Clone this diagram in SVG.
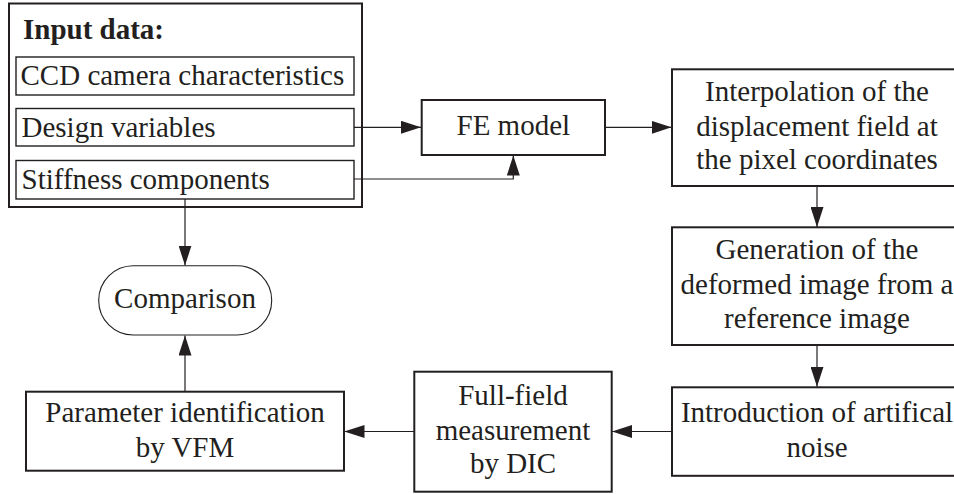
<svg xmlns="http://www.w3.org/2000/svg" width="954" height="494" viewBox="0 0 954 494">
<style>
text{font-size:29px;fill:#231f20}
.c{text-anchor:middle}
.b{font-weight:bold}
.box{fill:#fff;stroke:#231f20;stroke-width:2}
.inner{fill:#fff;stroke:#231f20;stroke-width:1.4}
.conn{fill:none;stroke:#231f20;stroke-width:1.2}
</style>
<defs>
<marker id="ah" viewBox="0 0 20 13" refX="20" refY="6.5" markerWidth="20" markerHeight="13" markerUnits="userSpaceOnUse" orient="auto">
<path d="M0,0 L20,6.5 L0,13 Z" fill="#231f20"/>
</marker>
</defs>
<rect width="954" height="494" fill="#fff"/>
<g font-family="Liberation Serif, Times New Roman, Times, serif">
<g id="input">
<rect class="box" x="9" y="3.5" width="353" height="203.5" stroke-width="2.4"/>
<text class="b" x="23" y="39">Input data:</text>
<g id="ccd"><rect class="inner" x="16" y="57" width="338" height="38"/><text x="20.5" y="85">CCD camera characteristics</text></g>
<g id="design"><rect class="inner" x="16" y="108.5" width="338" height="37.5"/><text x="21.5" y="136.5">Design variables</text></g>
<g id="stiffness"><rect class="inner" x="16" y="160.5" width="338" height="38.5"/><text x="21.5" y="188.5">Stiffness components</text></g>
</g>
<g id="connectors">
<path class="conn" d="M354,127.3 H421" marker-end="url(#ah)"/>
<path class="conn" d="M354,179 H513.3 V155.5" marker-end="url(#ah)"/>
<path class="conn" d="M605,127.3 H671.5" marker-end="url(#ah)"/>
<path class="conn" d="M817,186 V227" marker-end="url(#ah)"/>
<path class="conn" d="M817,345 V386.8" marker-end="url(#ah)"/>
<path class="conn" d="M672,431.5 H612" marker-end="url(#ah)"/>
<path class="conn" d="M414,431.5 H344.5" marker-end="url(#ah)"/>
<path class="conn" d="M185,391.5 V335.5" marker-end="url(#ah)"/>
<path class="conn" d="M185,199 V265.5" marker-end="url(#ah)"/>
</g>
<g id="fe">
<rect class="box" x="421.7" y="100" width="183.3" height="55"/>
<text class="c" x="513.3" y="135">FE model</text>
</g>
<g id="interp">
<rect class="box" x="672" y="69.3" width="292" height="116.7"/>
<text class="c" x="817" y="101">Interpolation of the</text>
<text class="c" x="817" y="135.5">displacement field at</text>
<text class="c" x="817" y="169.3">the pixel coordinates</text>
</g>
<g id="generation">
<rect class="box" x="672" y="227.3" width="292" height="117.7"/>
<text class="c" x="817" y="259.3">Generation of the</text>
<text class="c" x="817" y="294">deformed image from a</text>
<text class="c" x="817" y="328.3">reference image</text>
</g>
<g id="noise">
<rect class="box" x="672" y="387.3" width="292" height="88.5"/>
<text class="c" x="817" y="422.3">Introduction of artifical</text>
<text class="c" x="817" y="457.3">noise</text>
</g>
<g id="dic">
<rect class="box" x="414.3" y="371.7" width="197.4" height="120"/>
<text class="c" x="513" y="405">Full-field</text>
<text class="c" x="513" y="440">measurement</text>
<text class="c" x="513" y="473.3">by DIC</text>
</g>
<g id="vfm">
<rect class="box" x="26" y="391.7" width="318" height="79"/>
<text class="c" x="185" y="422">Parameter identification</text>
<text class="c" x="185" y="457">by VFM</text>
</g>
<g id="comparison">
<rect x="98.7" y="265.7" width="173" height="69.3" rx="34.6" fill="#fff" stroke="#231f20" stroke-width="1.1"/>
<text class="c" x="185" y="308.3">Comparison</text>
</g>
</g>
</svg>
